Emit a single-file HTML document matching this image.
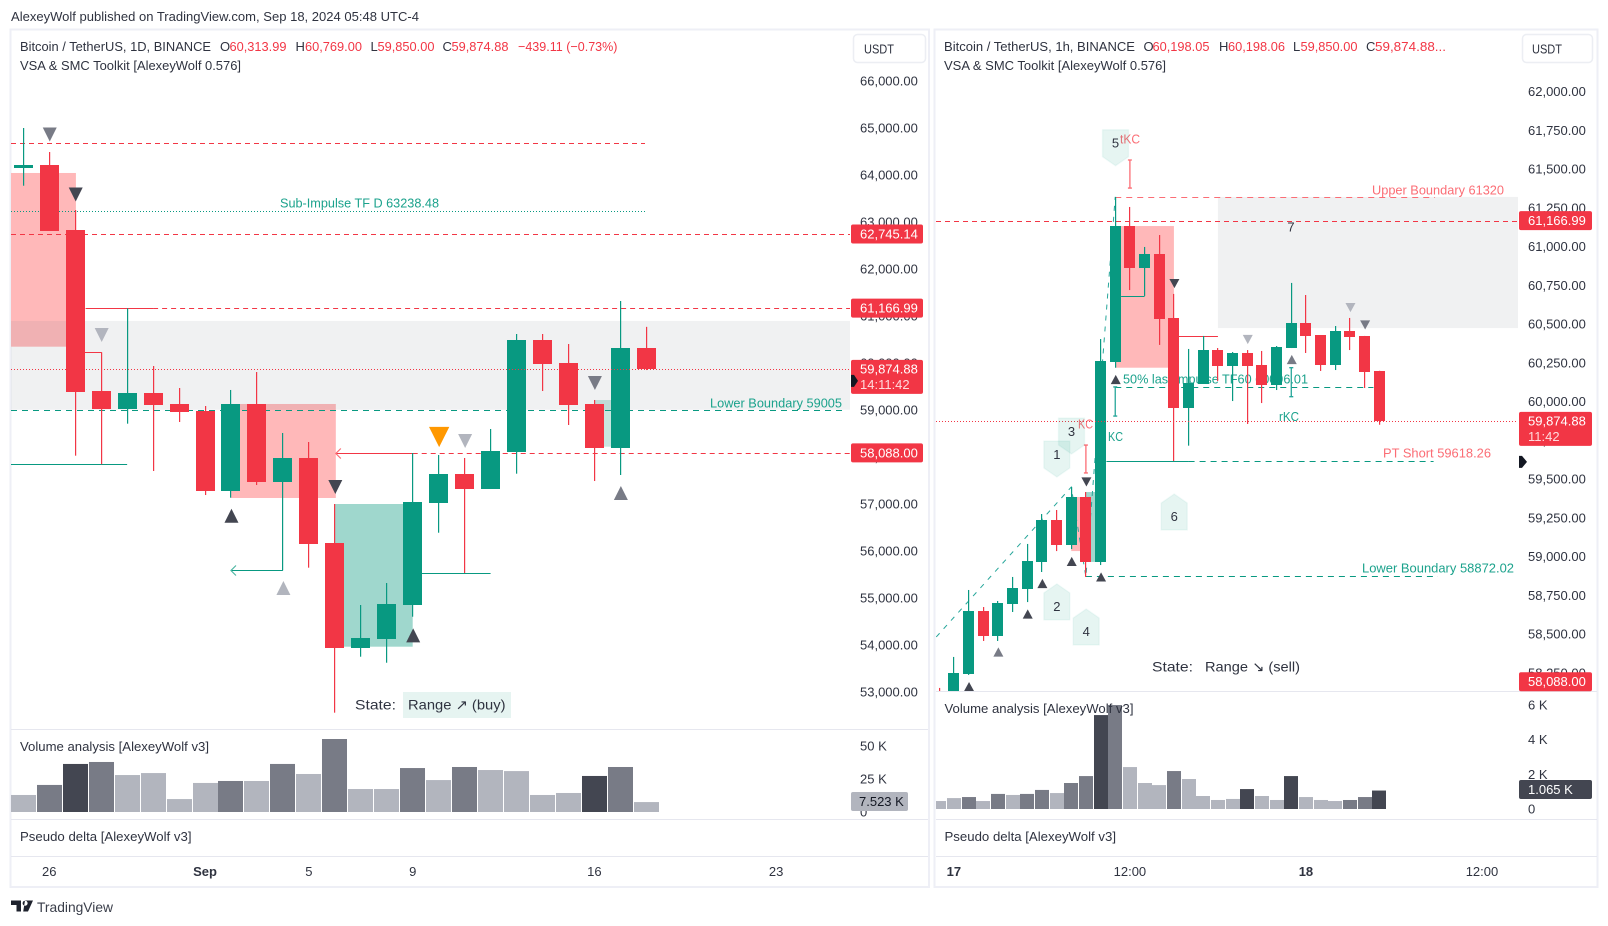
<!DOCTYPE html>
<html lang="en">
<head>
<meta charset="utf-8">
<title>Bitcoin / TetherUS chart</title>
<style>
html,body{margin:0;padding:0;background:#fff;width:1608px;height:926px;overflow:hidden}
svg{display:block}
text{font-family:"Liberation Sans","DejaVu Sans",sans-serif;font-size:13px;fill:#2f3340;white-space:pre}
.red{fill:#f23645}
.teal{fill:#1ba28c}
.salmon{fill:#fb6d75}
</style>
</head>
<body>
<svg id="root" xmlns="http://www.w3.org/2000/svg" width="1608" height="926" viewBox="0 0 1608 926">
  <defs>
    <clipPath id="clip-left-main"><rect x="11" y="31" width="839" height="698"/></clipPath>
    <clipPath id="clip-right-main"><rect x="936" y="31" width="582" height="660"/></clipPath>
    <clipPath id="clip-left-vol"><rect x="11" y="730" width="839" height="89"/></clipPath>
    <clipPath id="clip-right-vol"><rect x="936" y="692" width="582" height="127"/></clipPath>
  </defs>

  <text x="11" y="21" textLength="408" lengthAdjust="spacingAndGlyphs">AlexeyWolf published on TradingView.com, Sep 18, 2024 05:48 UTC-4</text>

  <rect x="10.5" y="29.5" width="918.5" height="857.5" fill="#fff" stroke="#eeeff6" stroke-width="2"/>
  <rect x="934.5" y="29.5" width="663" height="857.5" fill="#fff" stroke="#eeeff6" stroke-width="2"/>

  <g clip-path="url(#clip-left-main)">
    <g id="left-back"></g>
    <text class="teal" x="280" y="207.5" textLength="159" lengthAdjust="spacingAndGlyphs">Sub-Impulse TF D 63238.48</text>
    <text class="teal" x="710" y="407.5" textLength="132" lengthAdjust="spacingAndGlyphs">Lower Boundary 59005</text>
    <g id="left-candles"></g>
    <g id="left-front"></g>
    <text x="355" y="709.5" style="font-size:14px" textLength="41" lengthAdjust="spacingAndGlyphs">State:</text>
    <rect x="403" y="692" width="108" height="26" fill="#e6f4f1"/>
    <text x="408" y="709.5" style="font-size:14px" textLength="97.5" lengthAdjust="spacingAndGlyphs">Range ↗ (buy)</text>
  </g>

  <g clip-path="url(#clip-right-main)">
    <g id="right-back"></g>
    <text class="teal" x="1123" y="383.5" textLength="185" lengthAdjust="spacingAndGlyphs">50% last impulse TF60 60096.01</text>
    <text class="salmon" x="1372" y="194.5" textLength="132" lengthAdjust="spacingAndGlyphs">Upper Boundary 61320</text>
    <text class="salmon" x="1383" y="457.5" textLength="108" lengthAdjust="spacingAndGlyphs">PT Short 59618.26</text>
    <text class="teal" x="1362" y="572.5" textLength="152" lengthAdjust="spacingAndGlyphs">Lower Boundary 58872.02</text>
    <g id="right-candles"></g>
    <text class="salmon" x="1120" y="143.5" textLength="20" lengthAdjust="spacingAndGlyphs">tKC</text>
    <text class="salmon" x="1078" y="428.5" textLength="15" lengthAdjust="spacingAndGlyphs">KC</text>
    <text class="teal" x="1108" y="441" textLength="15" lengthAdjust="spacingAndGlyphs">KC</text>
    <text class="teal" x="1279" y="421" textLength="20" lengthAdjust="spacingAndGlyphs">rKC</text>
    <text x="1291" y="231.5" text-anchor="middle">7</text>
    <g id="right-front"></g>
    <text x="1152" y="671.5" style="font-size:14px" textLength="41" lengthAdjust="spacingAndGlyphs">State:</text>
    <text x="1205" y="671.5" style="font-size:14px" textLength="95" lengthAdjust="spacingAndGlyphs">Range ↘ (sell)</text>
  </g>

  <g clip-path="url(#clip-left-vol)"><g id="left-volume"></g></g>
  <g clip-path="url(#clip-right-vol)"><g id="right-volume"></g></g>

  <g fill="#e6e7ef">
    <rect x="11" y="729" width="917" height="1"/>
    <rect x="11" y="819" width="917" height="1"/>
    <rect x="11" y="856" width="917" height="1"/>
    <rect x="936" y="691" width="661" height="1"/>
    <rect x="936" y="819" width="661" height="1"/>
    <rect x="936" y="856" width="661" height="1"/>
  </g>

  <g>
    <text x="20" y="51" textLength="191" lengthAdjust="spacingAndGlyphs">Bitcoin / TetherUS, 1D, BINANCE</text>
    <text x="220" y="51">O</text>
    <text class="red" x="229.5" y="51" textLength="57" lengthAdjust="spacingAndGlyphs">60,313.99</text>
    <text x="295.5" y="51">H</text>
    <text class="red" x="305" y="51" textLength="57" lengthAdjust="spacingAndGlyphs">60,769.00</text>
    <text x="370.5" y="51">L</text>
    <text class="red" x="377.5" y="51" textLength="57" lengthAdjust="spacingAndGlyphs">59,850.00</text>
    <text x="442.5" y="51">C</text>
    <text class="red" x="451.5" y="51" textLength="57" lengthAdjust="spacingAndGlyphs">59,874.88</text>
    <text class="red" x="518" y="51" textLength="99.5" lengthAdjust="spacingAndGlyphs">−439.11 (−0.73%)</text>
    <text x="20" y="70" textLength="221" lengthAdjust="spacingAndGlyphs">VSA &amp; SMC Toolkit [AlexeyWolf 0.576]</text>
    <text x="20" y="751" textLength="189" lengthAdjust="spacingAndGlyphs">Volume analysis [AlexeyWolf v3]</text>
    <text x="20" y="841" textLength="171.5" lengthAdjust="spacingAndGlyphs">Pseudo delta [AlexeyWolf v3]</text>
  </g>

  <g>
    <text x="944" y="51" textLength="191" lengthAdjust="spacingAndGlyphs">Bitcoin / TetherUS, 1h, BINANCE</text>
    <text x="1143.5" y="51">O</text>
    <text class="red" x="1152.5" y="51" textLength="57" lengthAdjust="spacingAndGlyphs">60,198.05</text>
    <text x="1219" y="51">H</text>
    <text class="red" x="1228" y="51" textLength="57" lengthAdjust="spacingAndGlyphs">60,198.06</text>
    <text x="1293" y="51">L</text>
    <text class="red" x="1300.5" y="51" textLength="57" lengthAdjust="spacingAndGlyphs">59,850.00</text>
    <text x="1366" y="51">C</text>
    <text class="red" x="1375" y="51" textLength="71" lengthAdjust="spacingAndGlyphs">59,874.88...</text>
    <text x="944" y="70" textLength="222" lengthAdjust="spacingAndGlyphs">VSA &amp; SMC Toolkit [AlexeyWolf 0.576]</text>
    <text x="944.5" y="713" textLength="189" lengthAdjust="spacingAndGlyphs">Volume analysis [AlexeyWolf v3]</text>
    <text x="944.5" y="841" textLength="171.5" lengthAdjust="spacingAndGlyphs">Pseudo delta [AlexeyWolf v3]</text>
  </g>

  <g id="left-axis"></g>
  <g id="right-axis"></g>
  <g id="left-time"></g>
  <g id="right-time"></g>

  <g>
    <rect x="853.5" y="34.5" width="72" height="28" rx="4" fill="#fff" stroke="#eceef3" stroke-width="1.5"/>
    <text x="864" y="53.5" textLength="30" lengthAdjust="spacingAndGlyphs">USDT</text>
  </g>
  <g>
    <rect x="1522.5" y="34.5" width="70" height="28" rx="4" fill="#fff" stroke="#eceef3" stroke-width="1.5"/>
    <text x="1532" y="53.5" textLength="30" lengthAdjust="spacingAndGlyphs">USDT</text>
  </g>

  <g>
    <path fill="#1e222d" d="M11 900.5h10v11h-4.5v-6.5H11zM25 900.5h8l-5 11h-4.8zM22.6 903.2a2.5 2.5 0 1 0 0-.01z"/>
    <text x="37" y="912" style="font-size:14px;fill:#3a3e4a" textLength="76" lengthAdjust="spacingAndGlyphs">TradingView</text>
  </g>
</svg>

<script>
/* ---------- Daily chart data ---------- */
const leftOpen  = [64155,64213,62830,59404,59021,59362,59128,58979,57277,59128,57468,57979,56170,53943,54134,54857,57028,57638,57319,58106,60489,60000,59128,58191,60313.99];
const leftHigh  = [65000,64489,63255,60228,61164,59936,59468,59085,59426,59808,58511,58319,57000,54851,55319,58085,58043,57979,58596,60617,60617,60404,59213,61319,60769];
const leftLow   = [63772,62815,58028,57845,58709,57702,58745,57191,57134,57404,55589,55645,52560,53751,53623,54602,56389,55532,57319,57645,59404,58681,57489,57617,59850];
const leftClose = [64213,62815,59389,59021,59362,59106,58957,57277,59128,57468,57979,56149,53943,54149,54872,57043,57638,57319,58128,60489,59979,59106,58191,60319,59874.88];
const leftVolume = [12.9,20.5,36.4,37.9,28,29.5,9.8,22,23.5,23.5,36.4,28.8,55.3,17.4,17.4,33.3,24.2,34.1,31.8,31,12.9,14.4,27.3,34.1,7.523];
const leftVolumeTier = [0,1,2,1,0,0,0,0,1,0,1,0,1,0,0,1,0,1,0,0,0,0,2,1,0];
const leftPriceTicks = [66000,65000,64000,63000,62000,61000,60000,59000,58000,57000,56000,55000,54000,53000];
const leftVolumeTicks = [50,25,0];
const leftVolumeTickText = ['50 K','25 K','0'];
const leftTimeBars = [1,7,11,15,22,29];
const leftTimeLabels = ['26','Sep','5','9','16','23'];
const leftTimeBold = [false,true,false,false,false,false];
const leftMarkerBars   = [1,2,3,8,10,12,15,16,17,22,23];
const leftMarkerPrices = [64862,63585,60596,56751,55213,57362,54206,58426,58340,59574,57234];
const leftMarkerDirs   = ['down','down','down','up','up','down','up','down','down','down','up'];
const leftMarkerTiers  = [1,2,0,2,0,2,2,3,0,1,1];

/* ---------- Hourly chart data ---------- */
const rightOpen  = [58126,58074,58242,58648,58487,58694,58790,58965,59235,59074,59384,58965,60255,61132,60861,60952,60539,59958,60113,60332,60229,60313,60235,60106,60345,60506,60429,60235,60455,60423,60198.05];
const rightHigh  = [58152,58352,58784,58674,58713,58868,59081,59274,59300,59448,59416,60403,61320,61255,60997,61074,60694,60339,60423,60345,60319,60332,60326,60358,60765,60687,60429,60487,60539,60423,60198.06];
const rightLow   = [58074,58074,58236,58455,58455,58642,58706,58900,59035,59048,58868,58945,60218,60719,60681,60365,59616,59715,60113,60132,60003,59855,59990,60074,60345,60313,60197,60203,60332,60087,59850];
const rightClose = [58074,58248,58648,58487,58700,58797,58971,59235,59074,59384,58965,60261,61132,60861,60952,60532,59960,60119,60332,60229,60313,60229,60106,60352,60506,60423,60235,60455,60416,60190,59874.88];
const rightVolume = [0.46,0.63,0.69,0.46,0.87,0.81,0.87,1.1,0.92,1.5,1.9,5.42,6,2.42,1.5,1.38,2.19,1.73,0.75,0.52,0.58,1.15,0.75,0.52,1.9,0.69,0.52,0.46,0.52,0.69,1.065];
const rightVolumeTier = [0,0,1,0,1,0,1,1,0,1,1,2,1,0,0,0,1,0,0,0,0,2,0,0,2,0,0,0,1,1,2];
const rightPriceTicks = [62000,61750,61500,61250,61000,60750,60500,60250,60000,59750,59500,59250,59000,58750,58500,58250];
const rightVolumeTicks = [6,4,2,0];
const rightVolumeTickText = ['6 K','4 K','2 K','0'];
const rightTimeBars = [1,13,25,37];
const rightTimeLabels = ['17','12:00','18','12:00'];
const rightTimeBold = [true,false,true,false];
const rightMarkerBars   = [2,4,6,7,9,10,11,12,16,21,24,28,29];
const rightMarkerPrices = [58161,58384,58629,58826,58968,59481,58868,60142,60761,60400,60271,60606,60494];
const rightMarkerDirs   = ['up','up','up','up','up','down','up','up','down','down','up','down','down'];
const rightMarkerTiers  = [2,1,2,2,2,2,2,2,2,0,1,0,1];
const rightFlagLabels = ['5','1','3','2','4','6'];
const rightFlagBars   = [12,8,9,8,10,16];
const rightFlagPrices = [61521,59513,59661,58823,58661,59403];
const rightFlagDirs   = ['down','down','down','up','up','up'];

/* ---------- Reference levels ---------- */
const impulseBars   = [-0.2,9,10,12];
const impulsePrices = [58481,59448,58868,61320];

/* ---------- Axis functions ---------- */
const leftBarX = i => 23.3 + 25.96 * i;
const leftPriceY = p => 410 + (59000 - p) * 0.047;
const leftVolumeY = v => 812 - v * 1.32;
const rightBarX = i => 939.2 + 14.67 * i;
const rightPriceY = p => 401.5 + (60000 - p) * 0.155;
const rightVolumeY = v => 809 - v * 17.33;

const RED = '#f23645', GREEN = '#089981', SALMON = '#fb6d75';
const TIER_COLORS = ['#b2b5be','#787b86','#434651','#ff9800'];
const NS = 'http://www.w3.org/2000/svg';

function make(tag, parent, attrs) {
  const el = document.createElementNS(NS, tag);
  for (const k in attrs) el.setAttribute(k, attrs[k]);
  parent.appendChild(el);
  return el;
}
const layer = id => document.getElementById(id);

function drawCandles(parent, open, high, low, close, barX, priceY, w) {
  open.forEach((o, i) => {
    const c = close[i];
    const fill = c >= o ? GREEN : RED;
    const center = barX(i);
    const wick = make('rect', parent, {x: Math.floor(center), y: priceY(high[i]), width: 1.2, height: Math.max(0, priceY(low[i]) - priceY(high[i])), fill});
    
    
    const top = Math.round(priceY(Math.max(o, c)));
    const bottom = Math.round(priceY(Math.min(o, c)));
    const body = make('rect', parent, {x: Math.round(center - w / 2), y: top, width: w, height: Math.max(2, bottom - top), fill});
    
    
  });
}

function drawVolume(parent, values, tiers, barX, volumeY, w) {
  values.forEach((v, i) => {
    const bar = make('rect', parent, {x: Math.round(barX(i) - w / 2), y: volumeY(v), width: w, height: volumeY(0) - volumeY(v), fill: TIER_COLORS[tiers[i]]});
    
    
  });
}

function drawMarkers(parent, bars, prices, dirs, tiers, barX, priceY, halfW, halfH) {
  bars.forEach((b, i) => {
    const x = barX(b) + 0.5, y = priceY(prices[i]);
    const big = tiers[i] === 3 ? 1.45 : 1;
    const hw = halfW * big, hh = halfH * big;
    const pts = dirs[i] === 'up'
      ? `${x - hw},${y + hh} ${x + hw},${y + hh} ${x},${y - hh}`
      : `${x - hw},${y - hh} ${x + hw},${y - hh} ${x},${y + hh}`;
    const tri = make('polygon', parent, {points: pts, fill: TIER_COLORS[tiers[i]]});
    
    
  });
}

function hLevel(parent, name, x1, x2, rawY, color, dash, width) {
  const y = Math.round(rawY) + 0.5;
  const ln = make('line', parent, {x1, x2, y1: y, y2: y, stroke: color, 'stroke-width': width || 1, 'stroke-dasharray': dash || 'none'});
  
  
}

function zone(parent, name, x1, x2, y1, y2, fill) {
  const r = make('rect', parent, {x: x1, y: y1, width: x2 - x1, height: y2 - y1, fill});
  
  
}

function arrowHead(parent, name, x, y, color) {
  const a = make('polyline', parent, {points: `${x + 5},${y - 5} ${x},${y} ${x + 5},${y + 5}`, fill: 'none', stroke: color, 'stroke-width': 1.2});
  
  
}

function bracket(parent, name, x, y1, y2, color) {
  const b = make('path', parent, {d: `M${x - 2} ${y1}H${x + 2}M${x} ${y1}V${y2}M${x - 2} ${y2}H${x + 2}`, fill: 'none', stroke: color, 'stroke-width': 1.3});
  
  
}

function axisText(parent, name, x, y, str, anchor, fill, bold) {
  const t = make('text', parent, {x, y: y + 4.5, 'text-anchor': anchor || 'start'});
  if (fill) t.style.fill = fill;
  if (bold) t.style.fontWeight = 'bold';
  t.textContent = str;
  
  
  return t;
}

function priceTag(parent, name, x, w, y, h, fill) {
  const r = make('rect', parent, {x, y, width: w, height: h, rx: 2, fill});
  
  
}

function fmt(p) {
  return p.toLocaleString('en-US', {minimumFractionDigits: 2, maximumFractionDigits: 2});
}

/* ---------- Left chart ---------- */
(function () {
  const back = layer('left-back'), front = layer('left-front'), axis = layer('left-axis');
  const X = leftBarX, Y = leftPriceY;
  const L = 11, R = 850;

  zone(back, 'supply-zone-upper', L, X(2) + 0.7, Y(64043), Y(60347), '#ffb8b9');
  zone(back, 'supply-zone-mid', X(8), X(12) + 1, Y(59128), Y(57128), '#ffb8b9');
  zone(back, 'demand-zone', X(12), X(15), Y(57000), Y(53964), '#9fd7cd');
  zone(back, 'demand-zone-small', X(22), X(23), Y(59213), Y(58219), '#c8e6e0');
  zone(back, 'range-zone', L, R, Y(60894), Y(59005), 'rgba(120,123,134,0.11)');

  hLevel(back, 'level-64674', L, 645, Y(64674), RED, '5 4');
  hLevel(back, 'sub-impulse-line', L, 645, Y(63238.48), GREEN, '1 2');
  hLevel(back, 'level-62745', L, R, Y(62745.14), RED, '5 4');
  hLevel(back, 'level-61167-solid', X(2.4), X(5), Y(61166.99), RED);
  hLevel(back, 'level-61167-dashed', X(5), R, Y(61166.99), RED, '5 4');
  hLevel(back, 'lower-boundary-line', L, 843, Y(59005), GREEN, '6 5');
  hLevel(back, 'level-58088-solid', X(12) + 1, X(15), Y(58088), RED);
  hLevel(back, 'level-58088-dashed', X(15), R, Y(58088), RED, '5 4');
  arrowHead(back, 'level-58088-arrow', X(12) + 1, Math.round(Y(58088)) + 0.5, SALMON);
  hLevel(back, 'swing-low-line', L, X(4), Y(57845), GREEN);
  hLevel(back, 'swing-low-arrow-line', X(8), X(10), Y(55589), GREEN);
  arrowHead(back, 'swing-low-arrow', X(8), Math.round(Y(55589)) + 0.5, '#4db6a2');
  hLevel(back, 'swing-base-line', X(15), X(18), Y(55532), GREEN);
  hLevel(back, 'swing-high-tick', X(2.3), X(3) + 0.5, Y(60228), RED);

  drawCandles(layer('left-candles'), leftOpen, leftHigh, leftLow, leftClose, X, Y, 19);
  hLevel(front, 'current-price-line', L, R, Y(59874.88), RED, '1 2');
  drawMarkers(front, leftMarkerBars, leftMarkerPrices, leftMarkerDirs, leftMarkerTiers, X, Y, 7, 7);

  drawVolume(layer('left-volume'), leftVolume, leftVolumeTier, X, leftVolumeY, 25);

  leftPriceTicks.forEach(p => axisText(axis, 'price-tick', 860, Y(p), fmt(p)));
  leftVolumeTicks.forEach((v, i) => axisText(axis, 'volume-tick', 860, leftVolumeY(v), leftVolumeTickText[i]));
  leftTimeBars.forEach((b, i) => axisText(layer('left-time'), 'time-tick', X(b), 871.5, leftTimeLabels[i], 'middle', null, leftTimeBold[i]));

  [62745.14, 61166.99, 58088].forEach(p => {
    priceTag(axis, 'price-tag', 851, 72, Y(p) - 9.5, 19, RED);
    axisText(axis, 'price-tag-text', 860, Y(p), fmt(p), 'start', '#fff');
  });
  const cy = Y(59874.88);
  priceTag(axis, 'last-price-tag', 851, 72, cy - 9, 34, RED);
  axisText(axis, 'last-price-text', 860, cy, fmt(59874.88), 'start', '#fff');
  axisText(axis, 'countdown-text', 860, cy + 15.5, '14:11:42', 'start', '#ffd9dc');
  const m = make('polygon', axis, {points: `851,${cy + 6} 854,${cy + 6} 858,${cy + 12} 854,${cy + 18} 851,${cy + 18}`, fill: '#131722'});
  
  

  priceTag(axis, 'last-volume-tag', 851, 57, 792, 19, '#b2b5be');
  axisText(axis, 'last-volume-text', 859, 801.5, '7.523 K', 'start', '#131722');
})();

/* ---------- Right chart ---------- */
(function () {
  const back = layer('right-back'), front = layer('right-front'), axis = layer('right-axis');
  const X = rightBarX, Y = rightPriceY;
  const L = 936, R = 1518;

  zone(back, 'supply-zone', X(12), X(16), Y(61132), Y(60218), '#ffb8b9');
  zone(back, 'small-supply-zone', X(9), X(10), Y(59384), Y(59035), '#ffb8b9');
  zone(back, 'small-demand-zone', X(10), X(11), Y(59416), Y(58965), '#9fd7cd');
  zone(back, 'range-zone', X(19), R, Y(61320), Y(60474), 'rgba(120,123,134,0.11)');

  hLevel(back, 'level-61167', L, R, Y(61166.99), RED, '5 4');
  hLevel(back, 'upper-boundary-line', X(12), X(33.8), Y(61320), SALMON, '6 5');
  hLevel(back, 'fifty-percent-line', X(12), X(29.6), Y(60096.01), GREEN, '6 5');
  hLevel(back, 'pt-short-solid', X(11.4), X(17), Y(59618.26), GREEN);
  hLevel(back, 'pt-short-dashed', X(17), X(33.7), Y(59618.26), GREEN, '6 5');
  hLevel(back, 'lower-boundary-line', X(10), X(34), Y(58872.02), GREEN, '6 5');
  hLevel(back, 'swing-tick-red', X(16), X(19), Y(60423), RED);
  hLevel(back, 'swing-tick-green', X(12.4), X(14), Y(60681), GREEN);

  const impulse = make('polyline', back, {
    points: impulseBars.map((b, i) => `${X(b)},${Y(impulsePrices[i])}`).join(' '),
    fill: 'none', stroke: '#26a69a', 'stroke-width': 1, 'stroke-dasharray': '5 6'
  });
  
  

  drawCandles(layer('right-candles'), rightOpen, rightHigh, rightLow, rightClose, X, Y, 11);

  hLevel(front, 'current-price-line', L, R, Y(59874.88), RED, '1 2');
  bracket(front, 'kc-range-top', X(13), Y(61558), Y(61377), SALMON);
  bracket(front, 'kc-range-mid', X(12), Y(60094), Y(59906), '#26a69a');
  bracket(front, 'kc-range-red', X(10), Y(59719), Y(59539), SALMON);
  bracket(front, 'kc-range-right', X(24), Y(60218), Y(60031), '#26a69a');
  drawMarkers(front, rightMarkerBars, rightMarkerPrices, rightMarkerDirs, rightMarkerTiers, X, Y, 5, 4.6);

  rightFlagLabels.forEach((label, i) => {
    const cx = X(rightFlagBars[i]) + 0.3, tip = Y(rightFlagPrices[i]);
    const down = rightFlagDirs[i] === 'down';
    const near = down ? tip - 9 : tip + 9;
    const far = down ? tip - 36 : tip + 36;
    const flag = make('path', front, {d: `M${cx} ${tip}L${cx + 13} ${near}V${far}H${cx - 13}V${near}Z`, fill: 'rgba(8,153,129,0.10)', stroke: 'rgba(8,153,129,0.05)', 'stroke-linejoin': 'round', 'stroke-width': 1.5});
    
    
    axisText(front, 'wave-flag-label', cx, (near + far) / 2, label, 'middle');
  });

  drawVolume(layer('right-volume'), rightVolume, rightVolumeTier, X, rightVolumeY, 14);

  rightPriceTicks.forEach(p => axisText(axis, 'price-tick', 1528, Y(p), fmt(p)));
  rightVolumeTicks.forEach((v, i) => axisText(axis, 'volume-tick', 1528, rightVolumeY(v), rightVolumeTickText[i]));
  rightTimeBars.forEach((b, i) => axisText(layer('right-time'), 'time-tick', X(b), 871.5, rightTimeLabels[i], 'middle', null, rightTimeBold[i]));

  [61166.99, 58088].forEach(p => {
    const cy = Math.min(Y(p), 681.7);
    priceTag(axis, 'price-tag', 1519, 73, cy - 9.5, 19, RED);
    axisText(axis, 'price-tag-text', 1528, cy, fmt(p), 'start', '#fff');
  });
  const cy = Y(59874.88);
  priceTag(axis, 'last-price-tag', 1519, 73, cy - 9, 34, RED);
  axisText(axis, 'last-price-text', 1528, cy, fmt(59874.88), 'start', '#fff');
  axisText(axis, 'countdown-text', 1528, cy + 15.5, '11:42', 'start', '#ffd9dc');
  const m = make('polygon', axis, {points: `1519,${cy + 35} 1522,${cy + 35} 1527,${cy + 41} 1522,${cy + 47} 1519,${cy + 47}`, fill: '#131722'});
  
  

  priceTag(axis, 'last-volume-tag', 1519, 73, 780, 19, '#434651');
  axisText(axis, 'last-volume-text', 1528, 789.5, '1.065 K', 'start', '#fff');
})();
</script>
</body>
</html>
